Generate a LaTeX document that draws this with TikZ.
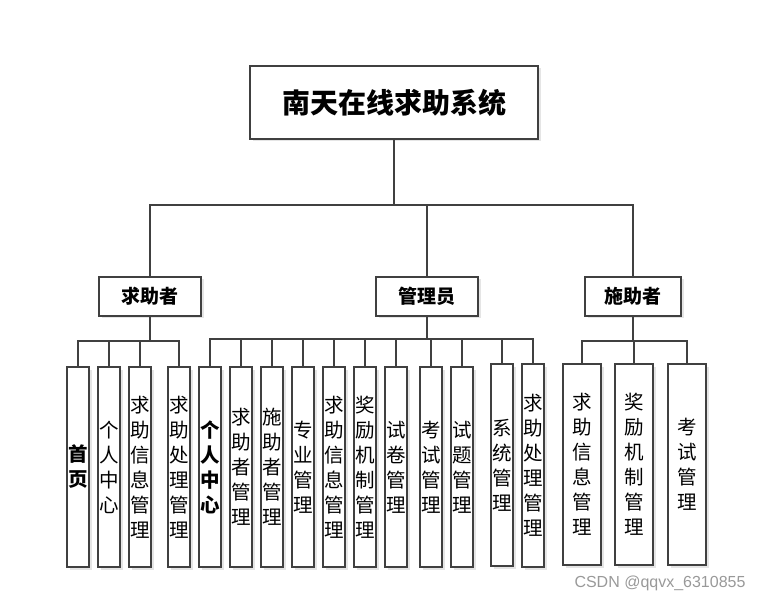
\documentclass[tikz,border=0pt]{standalone}
\usepackage{fontspec}
\setmainfont{Noto Sans CJK SC}
\setsansfont{Liberation Sans}
\usetikzlibrary{shadows}
\begin{document}
\begin{tikzpicture}
  [x=1pt,y=-1pt,
   box/.style={rectangle,draw=black!75,line width=1.8pt,fill=white,inner sep=0pt,
     drop shadow={shadow xshift=2.5pt,shadow yshift=-2.5pt,fill=black!20}},
   root/.style={box,minimum width=288pt,minimum height=73pt,font=\fontsize{28}{32}\selectfont\bfseries},
   role/.style={box,minimum height=39pt,font=\fontsize{19}{22}\selectfont\bfseries},
   leaf/.style={box,align=center,minimum width=22pt,minimum height=200pt,font=\fontsize{19.5}{25}\selectfont},
   link/.style={draw=black!75,line width=1.9pt}]
  \useasboundingbox (0,0) rectangle (768,601);

  \node[root] (sys) at (394,102.5) {南天在线求助系统};

  \node[role,minimum width=102pt] (m1) at (150,296.5) {求助者};
  \node[role,minimum width=102pt] (m2) at (427,296.5) {管理员};
  \node[role,minimum width=96pt]  (m3) at (633,296.5) {施助者};

  % 求助者
  \node[leaf,font=\fontsize{19.5}{25}\selectfont\bfseries] (a1) at (78,467) {首\\页};
  \node[leaf] (a2) at (109,467) {个\\人\\中\\心};
  \node[leaf] (a3) at (140,467) {求\\助\\信\\息\\管\\理};
  \node[leaf] (a4) at (179,467) {求\\助\\处\\理\\管\\理};

  % 管理员
  \node[leaf,font=\fontsize{19.5}{25}\selectfont\bfseries] (b1) at (210,467) {个\\人\\中\\心};
  \node[leaf] (b2) at (241,467) {求\\助\\者\\管\\理};
  \node[leaf] (b3) at (272,467) {施\\助\\者\\管\\理};
  \node[leaf] (b4) at (303,467) {专\\业\\管\\理};
  \node[leaf] (b5) at (334,467) {求\\助\\信\\息\\管\\理};
  \node[leaf] (b6) at (365,467) {奖\\励\\机\\制\\管\\理};
  \node[leaf] (b7) at (396,467) {试\\卷\\管\\理};
  \node[leaf] (b8) at (431,467) {考\\试\\管\\理};
  \node[leaf] (b9) at (462,467) {试\\题\\管\\理};
  \node[leaf,minimum height=202pt] (b10) at (502,465) {系\\统\\管\\理};
  \node[leaf,minimum height=203pt] (b11) at (533,465.5) {求\\助\\处\\理\\管\\理};

  % 施助者
  \node[leaf,minimum width=38pt,minimum height=201pt] (c1) at (582,464.5) {求\\助\\信\\息\\管\\理};
  \node[leaf,minimum width=38pt,minimum height=201pt] (c2) at (634,464.5) {奖\\励\\机\\制\\管\\理};
  \node[leaf,minimum width=38pt,minimum height=201pt] (c3) at (687,464.5) {考\\试\\管\\理};

  \node[font=\sffamily\fontsize{16}{16}\selectfont,text=black!40] (mark) at (660,583) {CSDN @qqvx\_6310855};

  \draw[link] (sys.south) -- ++(0,65) coordinate (j0);
  \foreach \to in {m1,m2,m3}
    \draw[link] (j0) -| (\to.north);

  \draw[link] (m1.south) -- ++(0,24) coordinate (ja);
  \foreach \to in {a1,a2,a3,a4}
    \draw[link] (ja) -| (\to.north);

  \draw[link] (m2.south) -- ++(0,22) coordinate (jb);
  \foreach \to in {b1,b2,b3,b4,b5,b6,b7,b8,b9,b10,b11}
    \draw[link] (jb) -| (\to.north);

  \draw[link] (m3.south) -- ++(0,24) coordinate (jc);
  \foreach \to in {c1,c2,c3}
    \draw[link] (jc) -| (\to.north);

\end{tikzpicture}
\end{document}
